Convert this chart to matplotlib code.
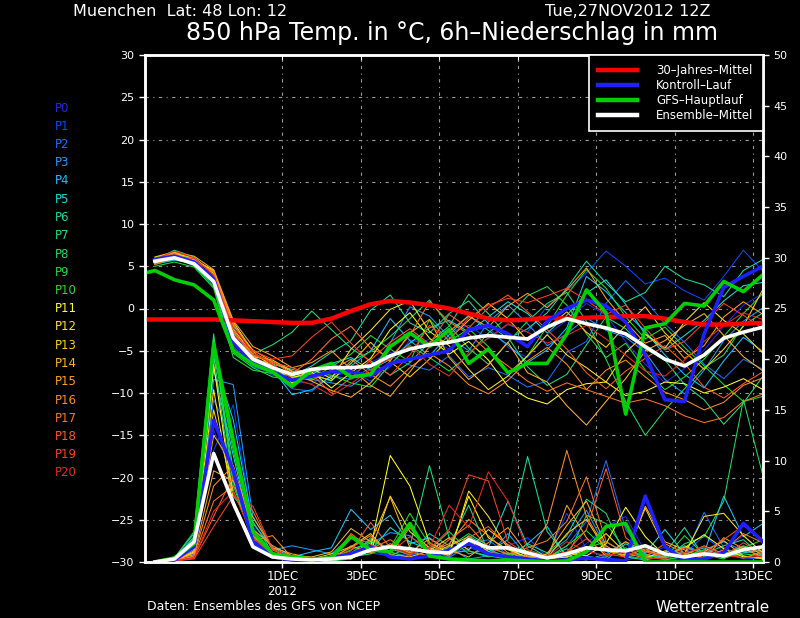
import matplotlib
matplotlib.use('Agg')
import matplotlib.pyplot as plt
from matplotlib.lines import Line2D

# Stunden ab Tue,27NOV2012 12Z (12-stuendlich gelesen)
hours = [6, 18, 30, 42, 54, 66, 78, 90, 102, 114, 126, 138, 150, 162, 174, 186,
         198, 210, 222, 234, 246, 258, 270, 282, 294, 306, 318, 330, 342, 354, 366, 378]
hours0 = [0] + hours

tick_hours = [84, 132, 180, 228, 276, 324, 372]
tick_labels = ['1DEC\n2012', '3DEC', '5DEC', '7DEC', '9DEC', '11DEC', '13DEC']

member_names = ['P%d' % i for i in range(21)]
member_colors = ['#2828e6', '#0a46ff', '#1a6eff', '#1a9cff', '#18c4ff', '#18dcdc',
                 '#18dca0', '#20dc80', '#20dc60', '#20dc40', '#20e020', '#ffff20',
                 '#ffe420', '#ffcc20', '#ffb420', '#ffa020', '#ff8c20', '#ff7420',
                 '#ff5a20', '#ff4020', '#e82a1a']

# 850 hPa Temperatur der Ensemble-Mitglieder
member_temp = [
    [5.8, 6.3, 5.6, 3.8, -3.0, -6.2, -7.4, -8.6, -8.9, -7.5, -7.8, -6.4, -5.2, -4.9, -3.6, -4.8, -2.7, -2.2, -4.6, -5.8, -3.1, -1.4, 0.6, -0.8, -3.9, -6.6, -8.8, -7.1, -4.9, -2.1, 0.4, 1.8],
    [5.4, 6.0, 5.2, 3.3, -3.8, -6.4, -7.9, -8.3, -7.0, -8.1, -7.4, -8.6, -6.9, -3.7, -4.2, -2.9, -2.0, -3.6, -1.9, -2.8, 0.3, 2.1, 4.2, 6.8, 5.0, 2.9, 3.6, 2.1, 1.0, 3.8, 6.9, 4.4],
    [5.9, 6.1, 5.0, 2.9, -4.5, -6.9, -7.6, -9.5, -9.8, -7.9, -8.4, -7.0, -5.5, -6.7, -7.3, -5.6, -8.1, -7.0, -7.9, -9.3, -8.6, -5.2, -3.9, 0.6, 3.3, 1.0, -1.8, -4.0, -6.6, -8.3, -6.0, -7.2],
    [5.3, 5.7, 5.4, 3.6, -2.7, -5.9, -6.8, -7.9, -8.4, -8.8, -9.2, -7.6, -4.1, 0.2, -0.9, -3.4, -5.0, -1.6, 0.4, -1.8, -4.4, -3.0, -1.1, -2.6, -3.4, -5.2, -8.4, -10.1, -7.3, -3.8, -1.5, 0.1],
    [5.6, 6.4, 5.9, 4.2, -2.2, -5.6, -7.2, -10.2, -9.6, -8.0, -6.8, -5.0, -1.2, -3.8, -5.6, -3.1, -0.8, -2.6, -4.3, -6.4, -4.9, -2.3, 3.8, 2.0, -0.5, -2.7, -5.5, -7.8, -9.4, -6.2, -3.4, -5.1],
    [6.0, 6.6, 5.7, 3.4, -3.6, -6.0, -6.6, -7.2, -7.8, -6.5, -5.8, -7.3, -6.0, -4.1, -2.3, -1.4, -2.8, -1.0, 0.8, -0.6, -2.9, -0.8, 1.8, 3.4, 0.5, -3.1, -4.9, -3.2, -1.4, 0.9, 2.7, 3.1],
    [5.2, 5.8, 5.3, 3.0, -4.8, -6.6, -7.5, -8.0, -6.8, -5.2, -3.8, -0.2, 1.6, -1.7, -2.9, -0.6, 0.9, -1.8, -3.6, -2.4, -0.5, 2.4, 5.6, 3.0, 0.8, 1.9, 5.0, 3.5, 2.8, 1.4, 4.5, 5.8],
    [5.7, 6.9, 6.1, 4.0, -2.9, -5.4, -4.3, -2.8, -0.3, -2.5, -4.7, -6.2, -7.9, -6.4, -4.0, -2.1, 1.7, -0.6, -3.4, -6.9, -9.1, -7.8, -4.3, -1.0, -2.4, -4.8, -6.1, -9.0, -10.8, -13.7, -11.2, -8.0],
    [5.5, 6.2, 5.1, 2.6, -5.3, -7.0, -8.1, -8.4, -7.7, -8.6, -6.2, -5.1, -3.3, -1.2, 1.0, -2.0, -4.7, -6.6, -4.0, -1.5, 0.6, 1.9, -1.5, -6.0, -11.0, -15.0, -12.0, -9.5, -7.0, -5.5, -2.0, -0.5],
    [5.0, 5.5, 4.9, 2.4, -5.8, -7.3, -7.7, -8.9, -7.4, -7.9, -8.8, -9.3, -6.6, -4.4, -5.8, -7.4, -5.5, -2.9, -1.0, 1.5, 2.6, 0.4, -3.0, -5.8, -4.1, -7.3, -9.6, -8.1, -6.0, -3.3, -0.6, 1.8],
    [5.9, 6.8, 5.5, 3.1, -4.0, -6.3, -7.3, -8.0, -8.3, -6.9, -5.4, -3.2, -4.8, -6.3, -1.3, -3.9, -2.4, -4.5, -7.7, -5.6, -2.1, 1.6, 4.6, 2.4, -1.0, -3.6, -2.2, -4.6, -6.8, -9.0, -11.0, -10.4],
    [5.4, 6.0, 5.8, 4.5, -1.6, -5.1, -6.9, -8.2, -7.5, -9.4, -7.6, -5.9, -2.5, -0.5, -3.5, -5.4, -3.9, -6.1, -9.2, -10.6, -11.3, -9.6, -8.9, -8.7, -10.3, -9.8, -8.7, -8.9, -10.0, -9.3, -8.3, -9.6],
    [5.7, 6.5, 6.0, 4.1, -2.4, -5.5, -6.5, -8.8, -7.1, -8.3, -4.8, -2.6, -0.1, 0.9, -2.7, -4.4, -7.2, -9.6, -8.0, -5.6, -3.1, -5.5, -7.0, -8.7, -5.2, -3.0, -4.7, -1.6, 0.7, -1.4, -3.0, -5.3],
    [6.1, 6.7, 5.4, 3.2, -3.3, -5.7, -6.1, -7.4, -7.9, -8.5, -6.5, -4.0, -6.3, -8.1, -6.0, -3.6, -1.4, 0.6, -1.2, -3.8, -2.3, -0.4, -2.8, -4.6, -2.0, 0.2, -2.9, -5.1, -7.2, -4.8, -2.1, 2.3],
    [5.3, 6.3, 5.8, 4.4, -2.0, -4.9, -6.3, -7.5, -8.6, -9.7, -10.5, -8.8, -6.2, -2.9, -1.3, -5.8, -8.4, -6.7, -4.0, -7.6, -8.7, -11.5, -13.8, -11.0, -8.3, -5.0, -3.8, -2.0, -0.6, -3.2, -5.7, -7.4],
    [5.8, 6.6, 6.2, 4.6, -1.4, -4.5, -5.6, -7.0, -6.4, -5.0, -7.2, -9.1, -10.4, -7.5, -4.5, -2.7, -0.9, -2.2, 0.3, 1.8, 0.1, 2.2, 4.8, 1.2, -1.6, -4.1, -3.2, -5.9, -4.4, -1.0, 0.8, -0.7],
    [5.6, 6.4, 5.1, 3.7, -2.6, -5.8, -6.7, -8.1, -8.5, -7.3, -6.0, -7.8, -9.2, -7.0, -5.3, -6.8, -9.0, -10.1, -8.5, -6.2, -4.6, -6.6, -9.6, -7.3, -6.1, -8.1, -9.9, -10.8, -12.0, -11.1, -9.1, -8.2],
    [5.9, 6.5, 5.6, 4.3, -1.8, -5.3, -6.3, -7.7, -6.0, -3.6, -2.1, -4.7, -5.8, -3.2, 0.8, -1.6, -3.0, -5.1, -6.8, -8.6, -9.8, -8.8, -9.6, -10.4, -11.2, -10.7, -11.5, -12.7, -13.5, -12.9, -11.0, -10.1],
    [5.2, 6.1, 5.9, 4.0, -2.8, -5.5, -6.4, -7.0, -7.8, -10.0, -8.2, -6.1, -4.0, -2.4, -4.2, -0.7, -2.3, 0.1, 1.6, -0.4, -2.5, -4.8, -7.6, -9.5, -7.4, -5.9, -4.4, -6.5, -9.3, -10.6, -8.9, -7.5],
    [5.5, 6.2, 5.3, 3.5, -3.2, -5.0, -6.0, -5.6, -3.4, -1.6, -4.1, -6.4, -7.9, -5.5, -2.0, -3.7, -1.1, 0.4, 1.2, 0.7, 1.5, 2.4, 1.0, -0.7, 0.4, -2.3, -4.9, -3.9, -1.7, 0.6, -0.8, -2.4],
    [5.8, 6.8, 6.0, 3.9, -2.3, -5.2, -6.6, -8.3, -9.0, -10.3, -8.9, -7.2, -5.9, -4.3, -6.6, -8.0, -5.2, -3.5, -1.8, -2.8, -4.1, -3.2, -2.0, -3.6, -5.5, -7.4, -8.0, -6.1, -3.9, -2.0, -0.5, -1.3],
]

# 6h-Niederschlag der Ensemble-Mitglieder (mm)
member_precip = [
    [0, 0.2, 1.2, 13.0, 8.5, 2.2, 0.6, 0.2, 0.1, 0.3, 0.6, 1.0, 1.5, 0.8, 0.4, 1.2, 2.0, 1.1, 0.6, 0.3, 0.2, 0.6, 1.8, 3.5, 4.5, 1.0, 0.3, 0.2, 0.5, 1.2, 2.6, 0.8],
    [0, 0.1, 0.8, 11.0, 15.5, 3.5, 0.8, 0.3, 0.0, 0.2, 0.4, 0.9, 0.6, 0.3, 0.8, 0.5, 1.4, 0.9, 1.6, 2.4, 0.5, 4.8, 1.3, 0.4, 0.2, 0.6, 1.5, 0.8, 2.6, 1.0, 0.3, 0.4],
    [0, 0.2, 1.5, 16.0, 12.0, 2.8, 0.9, 0.4, 0.3, 0.1, 0.5, 1.2, 0.9, 0.6, 1.5, 0.4, 1.8, 2.2, 0.7, 0.3, 0.4, 1.6, 4.0, 10.0, 3.2, 0.8, 0.2, 0.5, 4.9, 1.4, 0.6, 0.3],
    [0, 0.3, 2.2, 18.0, 17.5, 4.5, 1.2, 1.6, 1.2, 0.8, 2.5, 1.8, 2.9, 2.6, 0.9, 1.4, 0.3, 0.6, 2.8, 0.5, 0.8, 2.2, 5.1, 1.4, 0.6, 0.3, 0.9, 0.4, 1.2, 2.0, 1.1, 0.7],
    [0, 0.2, 1.8, 20.0, 14.0, 3.8, 1.4, 0.5, 1.0, 1.4, 5.2, 3.2, 4.6, 1.8, 2.4, 0.9, 1.1, 0.6, 0.3, 1.8, 3.5, 0.4, 0.2, 0.8, 2.0, 0.7, 0.5, 1.6, 0.9, 6.5, 2.5, 3.8],
    [0, 0.3, 2.5, 19.0, 10.5, 2.4, 0.7, 0.3, 0.2, 0.6, 0.4, 1.1, 3.4, 2.0, 1.2, 0.8, 2.6, 1.4, 6.0, 1.6, 0.5, 1.3, 0.6, 0.2, 1.8, 0.9, 3.2, 0.8, 1.4, 0.5, 0.9, 1.2],
    [0, 0.4, 2.8, 21.5, 9.0, 2.0, 0.5, 0.3, 0.1, 0.2, 0.9, 2.2, 1.3, 0.7, 2.8, 1.6, 5.6, 1.0, 2.2, 10.4, 3.0, 0.6, 0.3, 0.5, 1.4, 0.3, 0.9, 3.4, 0.5, 0.8, 1.6, 0.9],
    [0, 0.3, 2.0, 20.5, 6.5, 4.0, 0.9, 0.2, 0.0, 0.3, 0.8, 1.9, 0.6, 1.5, 9.5, 2.4, 0.8, 1.3, 0.4, 1.8, 0.9, 2.6, 6.2, 4.8, 0.5, 0.2, 0.6, 1.5, 0.8, 1.6, 2.2, 0.5],
    [0, 0.4, 3.0, 22.5, 8.0, 1.8, 0.4, 0.1, 0.0, 0.2, 0.5, 0.8, 1.6, 0.9, 1.2, 3.0, 1.1, 0.5, 0.9, 0.3, 0.2, 0.7, 1.4, 2.0, 0.9, 0.4, 0.3, 1.8, 2.5, 6.0, 16.0, 8.5],
    [0, 0.3, 2.4, 22.0, 7.5, 2.5, 0.6, 0.4, 0.2, 0.1, 0.3, 2.4, 1.0, 0.4, 0.6, 1.5, 2.8, 1.6, 0.7, 1.2, 0.6, 0.4, 4.6, 3.8, 1.2, 0.6, 0.4, 2.6, 0.7, 0.3, 1.4, 2.2],
    [0, 0.2, 1.6, 21.0, 11.0, 3.0, 0.8, 0.3, 0.1, 0.4, 1.2, 2.0, 1.4, 4.8, 1.7, 0.6, 2.0, 0.8, 0.3, 1.0, 0.4, 1.6, 3.1, 1.2, 0.5, 0.8, 0.2, 0.6, 1.2, 0.4, 0.8, 0.6],
    [0, 0.1, 1.0, 19.5, 6.0, 1.9, 0.5, 0.2, 0.0, 0.6, 0.3, 1.4, 10.5, 7.5, 1.9, 0.9, 6.5, 2.4, 1.2, 0.5, 0.2, 0.9, 0.6, 1.8, 5.4, 2.5, 0.6, 1.4, 2.7, 1.3, 0.5, 0.4],
    [0, 0.2, 1.3, 17.0, 5.5, 1.6, 0.4, 0.2, 0.1, 0.4, 0.7, 1.0, 6.5, 3.0, 1.4, 0.6, 7.0, 4.5, 1.3, 0.4, 0.3, 0.5, 1.2, 2.8, 0.9, 0.4, 1.1, 0.8, 4.5, 4.8, 2.6, 0.9],
    [0, 0.1, 0.9, 15.0, 7.0, 2.6, 0.9, 0.6, 0.3, 0.8, 1.5, 2.8, 0.7, 0.5, 1.1, 2.4, 1.2, 3.2, 1.7, 0.6, 0.4, 2.8, 4.2, 1.1, 0.7, 5.3, 1.4, 0.5, 1.0, 2.1, 0.6, 0.3],
    [0, 0.2, 1.1, 12.5, 9.5, 3.2, 1.6, 0.6, 0.5, 1.0, 3.3, 2.0, 6.4, 1.4, 0.8, 1.6, 2.5, 1.0, 0.6, 0.3, 0.8, 3.6, 6.0, 1.6, 0.4, 5.5, 2.0, 1.2, 0.4, 0.7, 1.5, 0.8],
    [0, 0.3, 0.7, 9.0, 8.0, 4.4, 1.4, 0.8, 0.4, 0.2, 1.6, 0.9, 1.8, 0.9, 2.3, 1.2, 0.5, 1.9, 3.4, 0.8, 0.3, 5.6, 2.4, 0.6, 2.0, 1.1, 0.7, 0.9, 0.3, 2.4, 1.3, 0.5],
    [0, 0.1, 0.6, 7.5, 9.5, 2.1, 2.6, 0.4, 0.2, 0.5, 1.4, 2.6, 0.8, 3.4, 1.0, 1.8, 4.2, 2.6, 0.9, 0.5, 3.8, 11.0, 4.5, 1.2, 0.6, 1.3, 0.4, 0.7, 1.6, 0.8, 0.4, 1.0],
    [0, 0.2, 0.5, 6.0, 7.5, 5.0, 1.2, 0.3, 0.1, 0.3, 2.8, 1.3, 2.2, 1.0, 0.6, 2.2, 3.6, 1.4, 0.8, 1.4, 2.1, 4.0, 8.4, 2.0, 0.8, 0.5, 1.8, 0.9, 0.4, 1.2, 2.8, 1.9],
    [0, 0.1, 0.4, 4.5, 8.5, 3.1, 0.8, 0.6, 0.3, 0.4, 1.1, 3.9, 1.4, 0.7, 1.9, 0.6, 2.4, 3.5, 1.6, 0.9, 0.6, 1.0, 3.2, 9.2, 2.4, 1.0, 0.6, 1.4, 0.9, 2.2, 3.6, 2.2],
    [0, 0.1, 0.3, 3.5, 6.5, 5.5, 1.3, 0.4, 0.2, 0.6, 0.9, 1.7, 0.9, 2.5, 1.3, 3.2, 8.6, 8.0, 2.0, 0.7, 0.4, 0.9, 2.3, 0.8, 0.5, 1.6, 0.8, 0.4, 1.1, 0.6, 1.9, 0.8],
    [0, 0.1, 0.4, 5.0, 7.0, 2.4, 0.7, 0.5, 0.3, 0.2, 0.7, 1.2, 1.6, 0.8, 1.4, 5.6, 3.4, 8.9, 6.0, 1.2, 0.5, 2.0, 1.1, 0.6, 1.0, 0.4, 0.3, 0.9, 1.5, 0.7, 0.4, 0.6],
]

# Sonderlinien
clim_temp = [-1.3, -1.3, -1.3, -1.3, -1.3, -1.4, -1.5, -1.6, -1.7, -1.7, -1.2, -0.3, 0.5, 0.9, 0.7, 0.4, 0.0,
             -0.6, -1.2, -1.4, -1.3, -1.1, -1.2, -1.1, -1.0, -0.9, -0.9, -1.2, -1.6, -1.9, -1.9, -1.8, -1.7]
gfs_temp = [4.2, 4.5, 3.4, 2.8, 1.0, -5.0, -6.6, -7.5, -9.2, -7.3, -6.5, -8.1, -7.8, -4.5, -2.9, -4.5, -2.5,
            -6.5, -4.8, -7.6, -6.5, -6.5, -3.0, 2.2, -0.5, -12.5, -2.3, -1.8, 0.6, 0.3, 3.2, 2.0, 4.0]
ctrl_temp = [5.8, 6.2, 5.5, 3.5, -4.0, -6.5, -7.5, -8.5, -8.0, -7.5, -7.5, -8.0, -6.5, -6.0, -5.5, -5.0,
             -2.5, -2.0, -3.0, -4.5, -1.5, 0.0, 1.0, 0.3, -1.6, -5.5, -10.8, -11.0, -3.0, 2.5, 3.8, 5.0]
mean_temp = [5.6, 6.0, 5.3, 3.2, -3.5, -6.0, -7.0, -7.8, -7.2, -7.0, -7.0, -6.8, -5.6, -4.8, -4.3, -4.0,
             -3.5, -3.2, -3.4, -3.6, -2.2, -1.2, -1.8, -2.3, -3.0, -4.5, -6.0, -6.8, -5.5, -3.5, -2.8, -2.2]

gfs_precip = [0, 0.4, 1.8, 21.5, 12.0, 3.0, 0.8, 0.5, 0.3, 0.4, 2.5, 1.2, 1.0, 3.8, 0.6, 0.3,
              0.2, 0.1, 0.2, 0.1, 0.0, 0.1, 1.0, 3.5, 3.8, 0.0, 0.0, 0.0, 0.0, 0.0, 0.0, 0.0]
ctrl_precip = [0, 0.2, 1.5, 14.0, 9.0, 2.0, 0.5, 0.2, 0.1, 0.4, 0.8, 1.5, 0.5, 0.3, 0.6, 1.2,
               1.8, 0.8, 0.5, 0.3, 0.1, 0.2, 0.4, 0.2, 0.1, 6.5, 1.5, 0.2, 0.3, 0.9, 3.8, 2.0]
mean_precip = [0.0, 0.3, 2.0, 10.7, 5.8, 1.5, 0.5, 0.3, 0.2, 0.3, 0.5, 1.2, 1.5, 1.3, 1.0, 0.9,
               2.2, 1.4, 1.4, 0.9, 0.4, 0.8, 1.4, 1.2, 1.1, 1.6, 0.8, 0.5, 0.8, 0.6, 1.2, 1.5]

legend_labels = ['30–Jahres–Mittel', 'Kontroll–Lauf', 'GFS–Hauptlauf', 'Ensemble–Mittel']
legend_colors = ['#ff0000', '#2020ff', '#00d000', '#ffffff']

W, H = 800, 618
fig = plt.figure(figsize=(8, 6.18), dpi=100, facecolor='black')
ax = fig.add_axes([145 / W, (H - 562) / H, 618 / W, 507 / H])
ax.set_facecolor('black')
ax2 = ax.twinx()

thin = 0.75
thick = 2.6
for i in range(21):
    ax.plot(hours, member_temp[i], color=member_colors[i], lw=thin, zorder=2)
    ax2.plot(hours, member_precip[i], color=member_colors[i], lw=thin, zorder=2)

ax.plot(hours0, clim_temp, color=legend_colors[0], lw=thick + 0.6, zorder=3)
ax.plot(hours, ctrl_temp, color=legend_colors[1], lw=thick, zorder=4)
ax.plot(hours0, gfs_temp, color=legend_colors[2], lw=thick, zorder=5)
ax.plot(hours, mean_temp, color=legend_colors[3], lw=thick, zorder=6)

ax2.plot(hours, ctrl_precip, color=legend_colors[1], lw=thick, zorder=4)
ax2.plot(hours, gfs_precip, color=legend_colors[2], lw=thick, zorder=5)
ax2.plot(hours, mean_precip, color=legend_colors[3], lw=thick, zorder=6)

ax.set_xlim(0, 378)
ax.set_ylim(-30, 30)
ax2.set_ylim(0, 50)
ax.set_xticks(tick_hours)
ax.set_xticklabels(tick_labels)
ax.set_yticks(range(-30, 31, 5))
ax2.set_yticks(range(0, 51, 5))

ax.grid(True, color='#9a9a9a', linestyle=(0, (3, 4, 1, 4)), lw=0.8)
ax.set_axisbelow(True)

for a in (ax, ax2):
    for s in a.spines.values():
        s.set_color('white')
        s.set_linewidth(1.8)
    a.tick_params(colors='white', labelsize=8, length=4, width=1, direction='out')
ax.tick_params(axis='x', labelsize=8.5, pad=2)

top = ax.secondary_xaxis('top')
top.set_xticks(tick_hours)
top.tick_params(direction='in', length=4, colors='white', labeltop=False)
top.spines['top'].set_visible(False)

handles = [Line2D([], [], color=c, lw=3.2) for c in legend_colors]
leg = ax2.legend(handles, legend_labels, loc='upper right', fontsize=8.5,
                 frameon=True, fancybox=False, facecolor='black', edgecolor='white',
                 framealpha=1, borderaxespad=0, borderpad=0.8, labelspacing=0.15,
                 handlelength=3.3, handletextpad=1.6, labelcolor='white')
leg.get_frame().set_linewidth(1.2)
leg.set_zorder(20)

for i, name in enumerate(member_names):
    fig.text(55 / W, 1 - (108 + 18.25 * i) / H, name, color=member_colors[i],
             fontsize=8.5, va='center', ha='left')

fig.text(73 / W, 1 - 12 / H, 'Muenchen  Lat: 48 Lon: 12', color='white',
         fontsize=11.5, va='center', ha='left')
fig.text(545 / W, 1 - 12 / H, 'Tue,27NOV2012 12Z', color='white',
         fontsize=11.5, va='center', ha='left')
fig.text(452 / W, 1 - 33 / H, '850 hPa Temp. in °C, 6h–Niederschlag in mm', color='white',
         fontsize=17, va='center', ha='center')
fig.text(147 / W, 1 - 607 / H, 'Daten: Ensembles des GFS von NCEP', color='white',
         fontsize=9, va='center', ha='left')
fig.text(655 / W, 1 - 607 / H, 'Wetterzentrale', color='white',
         fontsize=11, va='center', ha='left')

fig.savefig('out.png', dpi=100, facecolor='black')
